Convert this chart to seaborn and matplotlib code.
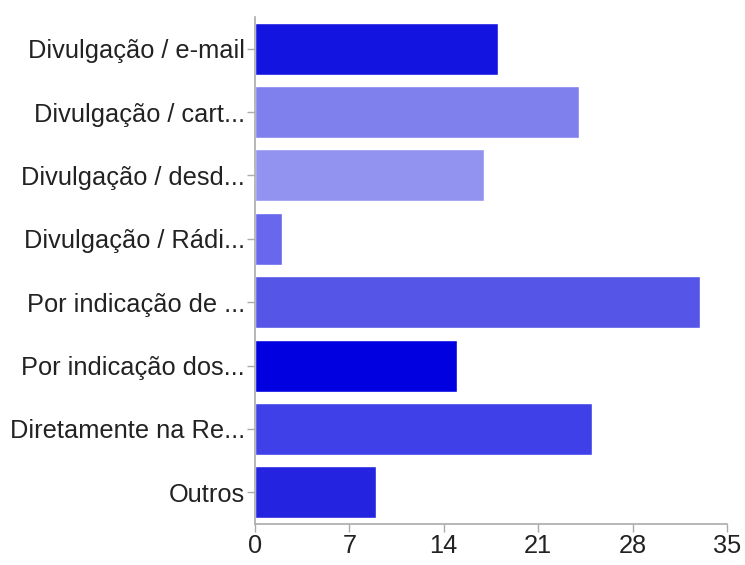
import pandas as pd
import seaborn as sns
import matplotlib.pyplot as plt

categories = [
    "Divulgação / e-mail",
    "Divulgação / cart...",
    "Divulgação / desd...",
    "Divulgação / Rádi...",
    "Por indicação de ...",
    "Por indicação dos...",
    "Diretamente na Re...",
    "Outros",
]
counts = [18, 24, 17, 2, 33, 15, 25, 9]
bar_colors = ["#1414e0", "#7f7fee", "#9292f0", "#6868ee",
              "#5555e8", "#0000e0", "#4040e8", "#2424e0"]
x_ticks = [0, 7, 14, 21, 28, 35]

df = pd.DataFrame({"categoria": categories, "respostas": counts})

sns.set_theme(style="white")
plt.rcParams["font.family"] = ["Liberation Sans", "DejaVu Sans"]

fig = plt.figure(figsize=(7.45, 5.65), dpi=100)
ax = fig.add_axes([0.342, 0.0726, 0.634, 0.8974])

sns.barplot(data=df, x="respostas", y="categoria", hue="categoria",
            palette=bar_colors, legend=False, width=0.82, ax=ax,
            saturation=1)

ax.set_xlim(0, 35)
ax.set_xticks(x_ticks)
ax.set_xlabel("")
ax.set_ylabel("")
ax.tick_params(axis="both", labelsize=18.3, colors="#aaaaaa", labelcolor="#222222",
               length=6, width=1, left=True, bottom=True, pad=1)

for side in ["top", "right"]:
    ax.spines[side].set_visible(False)
for side in ["left", "bottom"]:
    ax.spines[side].set_color("#aaaaaa")
    ax.spines[side].set_linewidth(1.2)

fig.savefig("out.png", dpi=100)
